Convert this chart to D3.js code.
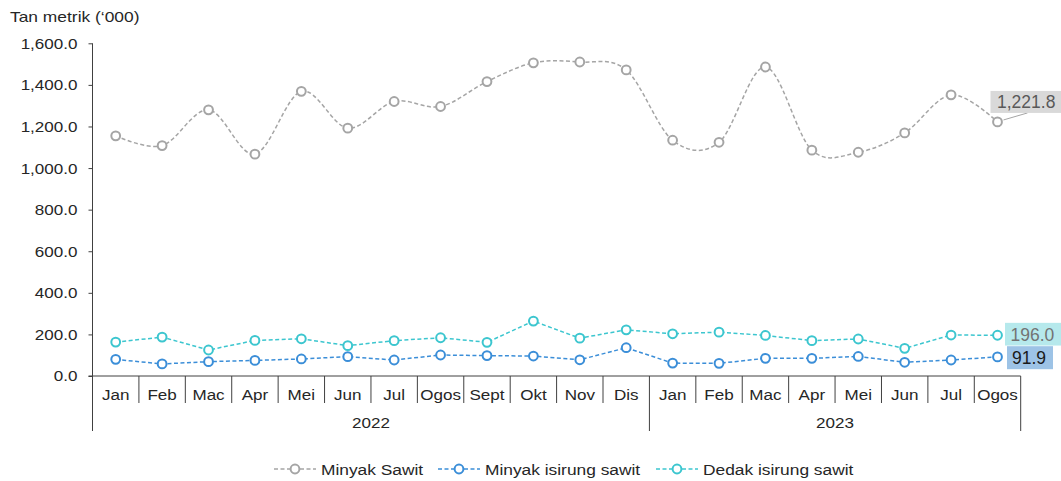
<!DOCTYPE html>
<html>
<head>
<meta charset="utf-8">
<script src="https://cdn.jsdelivr.net/npm/d3@7"></script>
<style>
  body { margin: 0; background: #fff; }
  svg { font-family: "Liberation Sans", Arial, sans-serif; }
</style>
</head>
<body>
<svg></svg>
<script>
const svgWidth = 1061
const svgHeight = 481
const margins = {top: 43.3, left: 92.5, right: 40.3, bottom: 105}

// data
const months = ["Jan","Feb","Mac","Apr","Mei","Jun","Jul","Ogos","Sept","Okt","Nov","Dis",
                "Jan","Feb","Mac","Apr","Mei","Jun","Jul","Ogos"]
const years = [{label: "2022", from: 0, to: 12}, {label: "2023", from: 12, to: 20}]
const minyakSawit = [1155,1108,1280,1067,1369,1192,1320,1296,1416,1506,1510,1472,
                     1134,1124,1486,1086,1076,1169,1352,1221.8]
const minyakIsirung = [80,58,69,75,82,93,77,101,98,96,78,136,
                       62,61,85,85,94,66,77,91.9]
const dedakIsirung = [163,187,125,171,179,146,170,184,162,264,182,222,
                      203,211,195,170,178,133,197,196.0]
const yTicks = [0,200,400,600,800,1000,1200,1400,1600]

const series = [
  {name: "Minyak Sawit", values: minyakSawit, color: "#a5a5a5", smooth: true},
  {name: "Minyak isirung sawit", values: minyakIsirung, color: "#3b8ed8", smooth: false},
  {name: "Dedak isirung sawit", values: dedakIsirung, color: "#3cc6cf", smooth: false}
]

const svg = d3.select("svg")
  .attr("width", svgWidth)
  .attr("height", svgHeight)

// text in the picture is a bit wider than the font, stretch it sideways
function stretch(sel, sx) {
  sel.each(function () {
    const t = d3.select(this)
    const x = +t.attr("x") || 0
    const y = +t.attr("y") || 0
    t.attr("x", 0).attr("y", 0)
      .attr("transform", `translate(${x},${y}) scale(${sx},1)`)
  })
}

const idx = months.map((d, i) => i)
const xScale = d3.scaleBand()
  .domain(idx)
  .range([margins.left, svgWidth - margins.right])
const yScale = d3.scaleLinear()
  .domain([0, 1600])
  .range([376, margins.top])

const axisColor = "#404040"
const textColor = "#262626"
const fs = 15.5

// y axis
const yAxis = svg.append("g")
  .attr("transform", `translate(${margins.left},0)`)
  .call(d3.axisLeft(yScale).tickValues(yTicks).tickSize(4).tickPadding(11)
    .tickFormat(d3.format(",.1f")))
yAxis.select(".domain").remove()
yAxis.selectAll(".tick line").attr("stroke", axisColor)
yAxis.selectAll(".tick text").attr("font-size", fs).attr("fill", textColor)
  .attr("font-family", "Liberation Sans, Arial, sans-serif")
  .call(stretch, 1.1)
svg.append("line")
  .attr("x1", margins.left).attr("x2", margins.left)
  .attr("y1", margins.top).attr("y2", 431)
  .attr("stroke", axisColor)

// x axis
const x0 = xScale.range()[0], x1 = xScale.range()[1]
svg.append("line")
  .attr("x1", x0 - 4).attr("x2", x1)
  .attr("y1", yScale(0)).attr("y2", yScale(0))
  .attr("stroke", axisColor)

const bw = xScale.bandwidth()
svg.append("g").selectAll("line")
  .data(idx.slice(1).concat([months.length]))
  .enter().append("line")
  .attr("x1", (d) => x0 + d * bw).attr("x2", (d) => x0 + d * bw)
  .attr("y1", yScale(0))
  .attr("y2", (d) => years.some((y) => y.to === d) ? 431 : 403)
  .attr("stroke", axisColor)

svg.append("g").selectAll("text")
  .data(idx)
  .enter().append("text")
  .attr("x", (d) => xScale(d) + bw / 2)
  .attr("y", 399.5)
  .attr("text-anchor", "middle")
  .attr("font-size", fs)
  .attr("fill", textColor)
  .text((d) => months[d])
  .call(stretch, 1.1)

svg.append("g").selectAll("text")
  .data(years)
  .enter().append("text")
  .attr("x", (d) => x0 + (d.from + d.to) / 2 * bw)
  .attr("y", 427.5)
  .attr("text-anchor", "middle")
  .attr("font-size", fs)
  .attr("fill", textColor)
  .text((d) => d.label)
  .call(stretch, 1.1)

// title
svg.append("text")
  .attr("x", 10).attr("y", 21.5)
  .attr("font-size", 15)
  .attr("fill", textColor)
  .text("Tan metrik (\u2018000)")
  .call(stretch, 1.16)

// lines
series.forEach((s) => {
  const line = d3.line()
    .x((d, i) => xScale(i) + bw / 2)
    .y((d) => yScale(d))
    .curve(s.smooth ? d3.curveCatmullRom.alpha(0) : d3.curveLinear)
  svg.append("path")
    .datum(s.values)
    .attr("d", line)
    .attr("fill", "none")
    .attr("stroke", s.color)
    .attr("stroke-width", 1.5)
    .attr("stroke-dasharray", "4,2.5")
  svg.append("g").selectAll("circle")
    .data(s.values)
    .enter().append("circle")
    .attr("cx", (d, i) => xScale(i) + bw / 2)
    .attr("cy", (d) => yScale(d))
    .attr("r", 4.4)
    .attr("fill", "#fff")
    .attr("stroke", s.color)
    .attr("stroke-width", 2)
})

// end labels
const last = months.length - 1
const lx = xScale(last) + bw / 2
const ly0 = yScale(minyakSawit[last])
svg.append("line")
  .attr("x1", lx + 6).attr("y1", ly0 - 2)
  .attr("x2", lx + 30).attr("y2", ly0 - 9)
  .attr("stroke", "#a5a5a5")
svg.append("rect")
  .attr("x", lx - 7).attr("y", ly0 - 31).attr("width", 72).attr("height", 22)
  .attr("fill", "#d9d9d9")
svg.append("text")
  .attr("x", lx - 0.5).attr("y", ly0 - 13.5)
  .attr("font-size", 17.5).attr("fill", "#595959")
  .text(d3.format(",.1f")(minyakSawit[last]))

const ly1 = yScale(dedakIsirung[last])
svg.append("rect")
  .attr("x", lx + 7.5).attr("y", ly1 - 12.4).attr("width", 60).attr("height", 22.7)
  .attr("fill", "#b6e9ec")
svg.append("text")
  .attr("x", lx + 13).attr("y", ly1 + 5.8)
  .attr("font-size", 17.5).attr("fill", "#737373")
  .text(d3.format(",.1f")(dedakIsirung[last]))

const ly2 = yScale(minyakIsirung[last])
svg.append("rect")
  .attr("x", lx + 9.5).attr("y", ly2 - 10.7).attr("width", 46).attr("height", 23)
  .attr("fill", "#9dc3e6")
svg.append("text")
  .attr("x", lx + 14.5).attr("y", ly2 + 7.5)
  .attr("font-size", 17.5).attr("fill", "#1a1a1a")
  .text(d3.format(",.1f")(minyakIsirung[last]))

// legend
const legendX = [274, 438, 656]
const legend = svg.append("g").selectAll("g")
  .data(series)
  .enter().append("g")
  .attr("transform", (d, i) => `translate(${legendX[i]},469)`)
legend.append("line")
  .attr("x1", 0).attr("x2", 42)
  .attr("stroke", (d) => d.color)
  .attr("stroke-width", 1.5)
  .attr("stroke-dasharray", "4,2.5")
legend.append("circle")
  .attr("cx", 21).attr("r", 4.4)
  .attr("fill", "#fff")
  .attr("stroke", (d) => d.color)
  .attr("stroke-width", 2)
legend.append("text")
  .attr("x", 47).attr("y", 5.5)
  .attr("font-size", fs).attr("fill", textColor)
  .text((d) => d.name)
  .call(stretch, 1.12)
</script>
</body>
</html>
